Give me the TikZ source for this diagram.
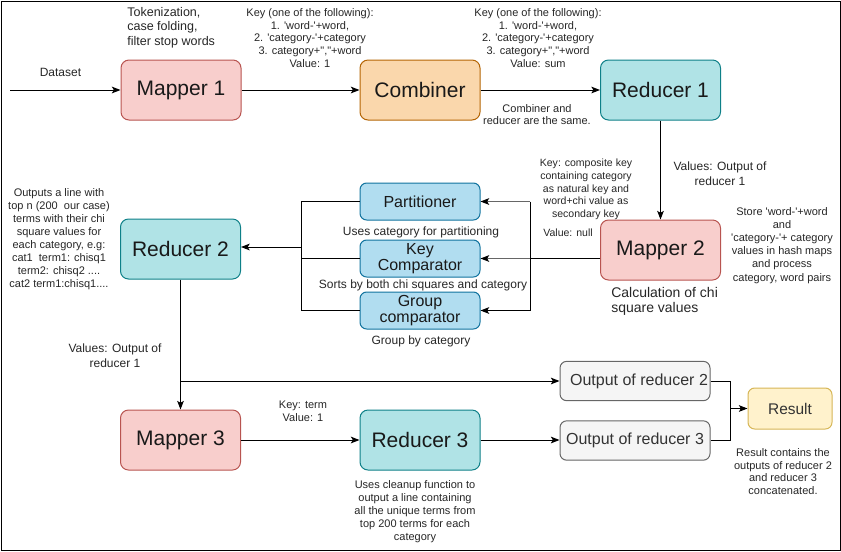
\documentclass[tikz,border=0pt]{standalone}
\usepackage{fontspec}
\setmainfont{Liberation Sans}[Ligatures=TeXOff]
\usetikzlibrary{arrows.meta}
\definecolor{redF}{HTML}{F8CECC}\definecolor{redS}{HTML}{B85450}
\definecolor{oraF}{HTML}{FAD7AC}\definecolor{oraS}{HTML}{B46504}
\definecolor{tealF}{HTML}{B0E3E6}\definecolor{tealS}{HTML}{0E8088}
\definecolor{bluF}{HTML}{B1DDF0}\definecolor{bluS}{HTML}{10739E}
\definecolor{gryF}{HTML}{F5F5F5}\definecolor{gryS}{HTML}{666666}\definecolor{gryT}{HTML}{333333}
\definecolor{yelF}{HTML}{FFF2CC}\definecolor{yelS}{HTML}{D6B656}
\definecolor{gline}{HTML}{666666}
\begin{document}
\begin{tikzpicture}[x=0.75pt,y=-0.75pt,
  box/.style={draw, line width=0.75pt, rounded corners=6pt, align=center, inner sep=1pt, text=black!90},
  bigbox/.style={box, minimum width=90pt, minimum height=45pt, font=\fontsize{15.75}{18}\selectfont},
  midbox/.style={box, rounded corners=5pt, minimum width=90pt, minimum height=27.75pt, font=\fontsize{12}{12.5}\selectfont},
  redbox/.style={fill=redF, draw=redS},
  orabox/.style={fill=oraF, draw=oraS},
  tealbox/.style={fill=tealF, draw=tealS},
  blubox/.style={fill=bluF, draw=bluS},
  outbox/.style={box, rounded corners=5pt, fill=gryF, draw=gryS, text=gryT, minimum width=112.5pt, minimum height=29.5pt, font=\fontsize{12}{12}\selectfont},
  resbox/.style={box, rounded corners=5pt, fill=yelF, draw=yelS, text=gryT, minimum width=63pt, minimum height=30.75pt, font=\fontsize{11.6}{12}\selectfont},
  txt/.style={inner sep=0pt, align=center, text=black!85},
  fsmall/.style={font=\fontsize{8.25}{9.5}\selectfont},
  fsmallb/.style={font=\fontsize{8.25}{9.8}\selectfont},
  fkey/.style={font=\fontsize{7.9}{9.5}\selectfont},
  fmed/.style={font=\fontsize{9}{11.5}\selectfont},
  arr/.style={-{Stealth[length=6.5pt,width=5pt,inset=1.5pt]}, line width=0.75pt},
  garr/.style={-{Stealth[length=6.5pt,width=5pt,inset=1.5pt,black,line width=0.75pt]}, line width=1.2pt, draw=gline},
  ln/.style={line width=0.75pt}
]
\useasboundingbox (0,0) rectangle (841,551);
\draw[line width=0.75pt] (1,1) rectangle (840,550);

% boxes
\node[bigbox,redbox] (m1) at (181,90) {Mapper 1};
\node[bigbox,orabox] (comb) at (420,90) {Combiner};
\node[bigbox,tealbox] (r1) at (660.5,90) {Reducer 1};
\node[bigbox,redbox] (m2) at (660.5,250) {Mapper 2};
\node[bigbox,tealbox] (r2) at (180.5,249) {Reducer 2};
\node[midbox,blubox] (part) at (420,201.5) {Partitioner};
\node[midbox,blubox] (keyc) at (420,258.5) {Key\\Comparator};
\node[midbox,blubox] (grpc) at (420,310.5) {Group\\comparator};
\node[bigbox,redbox] (m3) at (180.5,440) {Mapper 3};
\node[bigbox,tealbox] (r3) at (420,440) {Reducer 3};
\node[outbox] (o2) at (635,381) {\hspace{6pt}Output of reducer 2};
\node[outbox] (o3) at (635,440.5) {Output of reducer 3};
\node[resbox] (res) at (790,408.5) {Result};

% texts
\node[txt,font=\fontsize{9}{10}\selectfont] (dsl) at (60.5,72) {Dataset};
\node[txt,anchor=west,align=left,font=\fontsize{9.4}{10.9}\selectfont] (tok) at (127,27.5) {Tokenization,\\case folding,\\filter stop words};
\node[txt,fsmall] (k1) at (310,38) {Key (one of the following):\\1. 'word-'+word,\\2. 'category-'+category\\3. category+","+word\\Value: 1};
\node[txt,fsmall] (k2) at (538,38) {Key (one of the following):\\1. 'word-'+word,\\2. 'category-'+category\\3. category+","+word\\Value: sum};
\node[txt,fsmall] (cr) at (537,114.5) {Combiner and\\reducer are the same.};
\node[txt,fmed] (v1) at (720,173.5) {Values: Output of\\reducer 1};
\node[txt,fkey] (kc) at (586,189.5) {Key: composite key\\containing category\\as natural key and\\word+chi value as\\secondary key};
\node[txt,fkey] (vn) at (568,233) {Value: null};
\node[txt,fsmallb] (st) at (782,245.5) {Store 'word-'+word\\and\\'category-'+ category\\values in hash maps\\and process\\category, word pairs};
\node[txt,anchor=west,align=left,font=\fontsize{10.5}{11.25}\selectfont] (calc) at (611,301) {Calculation of chi\\square values};
\node[txt,font=\fontsize{9}{10}\selectfont] (pt) at (421,232) {Uses category for partitioning};
\node[txt,font=\fontsize{9}{10}\selectfont] (sb) at (423,285) {Sorts by both chi squares and category};
\node[txt,font=\fontsize{9}{10}\selectfont] (gb) at (421,341) {Group by category};
\node[txt,fsmallb] (outl) at (59,239) {Outputs a line with\\top n (200~~our case)\\terms with their chi\\square values for\\each category, e.g:\\cat1~~term1: chisq1\\term2: chisq2 ....\\cat2 term1:chisq1....};
\node[txt,fmed] (v2) at (115,356) {Values: Output of\\reducer 1};
\node[txt,fsmall] (kt) at (303,411.5) {Key: term\\Value: 1};
\node[txt,fsmallb] (r3t) at (415,511.5) {Uses cleanup function to\\output a line containing\\all the unique terms from\\top 200 terms for each\\category};
\node[txt,fsmall] (rt) at (783,471.5) {Result contains the\\outputs of reducer 2\\and reducer 3\\concatenated.};

% connectors
\coordinate (ds) at (10,90);
\draw[arr] (ds) -- (m1.west);
\draw[arr] (m1) -- (comb);
\draw[arr] (comb) -- (r1);
\draw[arr] (r1) -- (m2);
\coordinate (vx) at (530,258.5);
\draw[ln] (m2.west |- keyc.east) -- (vx);
\draw[ln] (vx |- part.east) -- (vx |- grpc.east);
\draw[garr] (vx) -- (keyc.east);
\draw[garr] (vx |- part.east) -- (part.east);
\draw[arr] (vx |- grpc.east) -- (grpc.east);
\coordinate (lx) at (301,247);
\draw[ln] (part.west) -- (part.west -| lx) -- (grpc.west -| lx) -- (grpc.west);
\draw[ln] (keyc.west) -- (keyc.west -| lx);
\draw[arr] (lx) -- (r2.east |- lx);
\draw[arr] (r2) -- (m3);
\coordinate (bx) at (180.5,381);
\draw[arr] (bx) -- (o2.west);
\draw[arr] (m3) -- (r3);
\draw[arr] (r3.east) -- (o3.west |- r3.east);
\coordinate (jx) at (730,408.5);
\draw[ln] (o2.east) -- (o2.east -| jx) -- (o3.east -| jx) -- (o3.east);
\draw[arr] (jx) -- (res.west);
\end{tikzpicture}
\end{document}
